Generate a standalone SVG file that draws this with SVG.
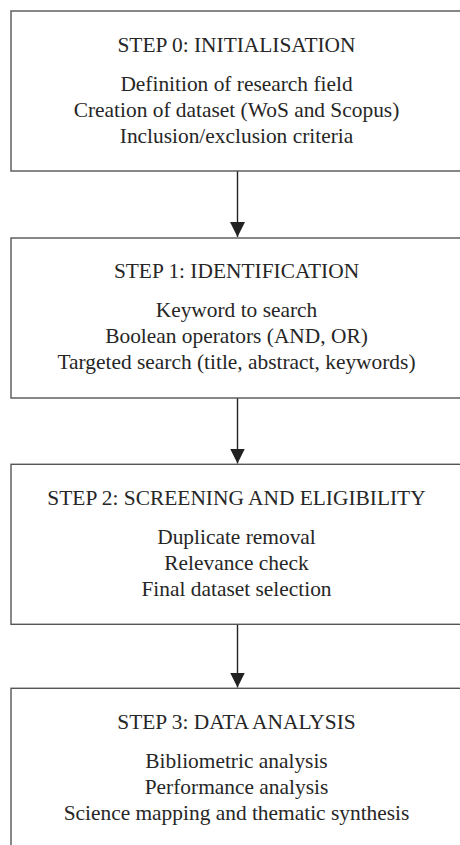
<svg xmlns="http://www.w3.org/2000/svg" width="460" height="845" viewBox="0 0 460 845">
<style>
.box{fill:#fff;stroke:#555;stroke-width:1.4}
.t{font-family:"Liberation Serif","Times New Roman",serif;font-size:21.4px;fill:#262626;text-anchor:middle}
.con{stroke:#222;stroke-width:1.4;fill:none}
</style>
<defs>
<marker id="ah" markerUnits="userSpaceOnUse" markerWidth="16" markerHeight="15" refX="15" refY="7.5" orient="auto">
<path d="M0,0 L15,7.5 L0,15 Z" fill="#222"/>
</marker>
</defs>
<rect width="460" height="845" fill="#fff"/>
<g id="connectors">
<line class="con" x1="237.5" y1="171" x2="237.5" y2="237" marker-end="url(#ah)"/>
<line class="con" x1="237.5" y1="398" x2="237.5" y2="463.5" marker-end="url(#ah)"/>
<line class="con" x1="237.5" y1="624" x2="237.5" y2="687.5" marker-end="url(#ah)"/>
</g>
<g id="step0">
<rect class="box" x="11" y="11" width="453" height="160"/>
<text class="t" x="236.5" y="52">STEP 0: INITIALISATION</text>
<text class="t" x="236.5" y="91">Definition of research field</text>
<text class="t" x="236.5" y="117">Creation of dataset (WoS and Scopus)</text>
<text class="t" x="236.5" y="143">Inclusion/exclusion criteria</text>
</g>
<g id="step1">
<rect class="box" x="11" y="238" width="453" height="160"/>
<text class="t" x="236.5" y="278">STEP 1: IDENTIFICATION</text>
<text class="t" x="236.5" y="317">Keyword to search</text>
<text class="t" x="236.5" y="343">Boolean operators (AND, OR)</text>
<text class="t" x="236.5" y="369">Targeted search (title, abstract, keywords)</text>
</g>
<g id="step2">
<rect class="box" x="11" y="464.3" width="453" height="160"/>
<text class="t" x="236.5" y="505">STEP 2: SCREENING AND ELIGIBILITY</text>
<text class="t" x="236.5" y="544">Duplicate removal</text>
<text class="t" x="236.5" y="570">Relevance check</text>
<text class="t" x="236.5" y="596">Final dataset selection</text>
</g>
<g id="step3">
<rect class="box" x="11" y="688.3" width="453" height="170"/>
<text class="t" x="236.5" y="729">STEP 3: DATA ANALYSIS</text>
<text class="t" x="236.5" y="768">Bibliometric analysis</text>
<text class="t" x="236.5" y="794">Performance analysis</text>
<text class="t" x="236.5" y="820">Science mapping and thematic synthesis</text>
</g>
</svg>
